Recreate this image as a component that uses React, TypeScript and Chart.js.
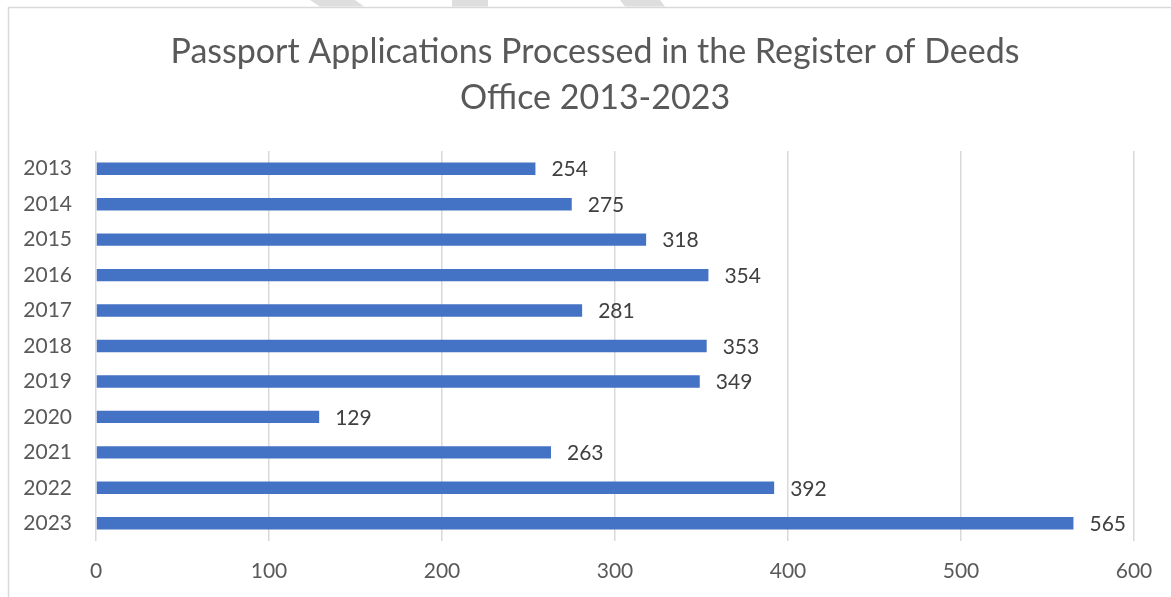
import React, { useEffect, useRef } from "react";
import { Chart, registerables } from "chart.js";

Chart.register(...registerables);

const categories = ["2013", "2014", "2015", "2016", "2017", "2018", "2019", "2020", "2021", "2022", "2023"];
const values = [254, 275, 318, 354, 281, 353, 349, 129, 263, 392, 565];
const titleLines = ["Passport Applications Processed in the Register of Deeds", "Office 2013-2023"];
const xTicks = { min: 0, max: 600, step: 100 };

const FONT = "Lato, 'Open Sans', sans-serif";

const framePlugin = {
  id: "frame",
  beforeDraw(chart: any) {
    const { ctx, width, height } = chart;
    ctx.save();
    ctx.fillStyle = "#ffffff";
    ctx.fillRect(0, 0, width, height);
    // faint background shapes peeking above the frame
    ctx.fillStyle = "#dedede";
    const shapes = [
      [[310, 0], [355, 0], [364, 6.5], [320, 6.5]],
      [[452, 0], [488, 0], [488, 6.5], [452, 6.5]],
      [[620, 0], [660, 0], [665, 6.5], [625, 6.5]],
    ];
    shapes.forEach((pts) => {
      ctx.beginPath();
      pts.forEach(([x, y], i) => (i ? ctx.lineTo(x, y) : ctx.moveTo(x, y)));
      ctx.closePath();
      ctx.fill();
    });
    ctx.strokeStyle = "#d9d9d9";
    ctx.lineWidth = 1.5;
    ctx.beginPath();
    ctx.moveTo(8.5, height);
    ctx.lineTo(8.5, 7.5);
    ctx.lineTo(width, 7.5);
    ctx.stroke();
    // title, centred on the frame
    ctx.fillStyle = "#595959";
    ctx.font = `34px ${FONT}`;
    ctx.textAlign = "center";
    ctx.textBaseline = "middle";
    titleLines.forEach((line, i) => ctx.fillText(line, 595, 52 + i * 46));
    ctx.restore();
  },
};

const labelPlugin = {
  id: "barLabels",
  afterDatasetsDraw(chart: any) {
    const { ctx } = chart;
    const meta = chart.getDatasetMeta(0);
    ctx.save();
    ctx.fillStyle = "#404040";
    ctx.font = `21px ${FONT}`;
    ctx.textAlign = "left";
    ctx.textBaseline = "middle";
    meta.data.forEach((bar: any, i: number) => {
      ctx.fillText(String(chart.data.datasets[0].data[i]), bar.x + 16, bar.y + 1);
    });
    ctx.restore();
  },
};

export default function App() {
  const ref = useRef<HTMLCanvasElement>(null);
  useEffect(() => {
    document.body.style.margin = "0";
    const chart = new Chart(ref.current!, {
      type: "bar",
      data: {
        labels: categories,
        datasets: [
          {
            data: values,
            backgroundColor: "#4472C4",
            barPercentage: 0.35,
            categoryPercentage: 1,
          },
        ],
      },
      options: {
        indexAxis: "y",
        animation: false,
        responsive: false,
        layout: { padding: { left: 0, right: 37, top: 151, bottom: 0 } },
        plugins: {
          legend: { display: false },
          tooltip: { enabled: false },
          title: { display: false },
        },
        scales: {
          x: {
            min: xTicks.min,
            max: xTicks.max,
            ticks: {
              stepSize: xTicks.step,
              color: "#595959",
              font: { family: FONT, size: 21 },
              padding: 18,
            },
            grid: { color: "#d9d9d9", lineWidth: 1.5, drawTicks: false },
            border: { display: false },
            afterFit(scale: any) {
              scale.height = 56;
            },
          },
          y: {
            ticks: {
              color: "#595959",
              font: { family: FONT, size: 21 },
              padding: 24,
            },
            grid: { display: false, drawTicks: false },
            border: { display: false },
            afterFit(scale: any) {
              scale.width = 96;
            },
          },
        },
      },
      plugins: [framePlugin, labelPlugin],
    } as any);
    return () => chart.destroy();
  }, []);
  return <canvas ref={ref} width={1171} height={597} style={{ display: "block" }} />;
}
